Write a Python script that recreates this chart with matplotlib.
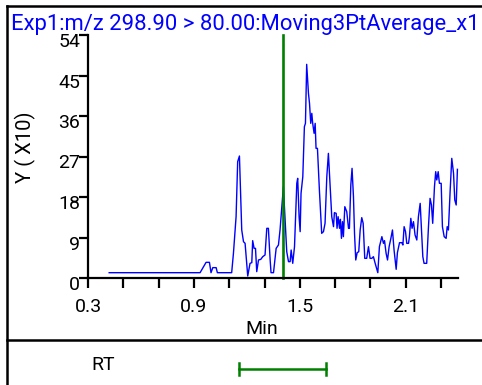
import matplotlib
matplotlib.use("Agg")
import matplotlib.pyplot as plt
from matplotlib.lines import Line2D
from matplotlib.transforms import ScaledTranslation

plt.rcParams['font.family'] = ['Roboto', 'DejaVu Sans']

# ---- data ----
time_min = [0.42, 0.935, 0.969, 0.988, 0.997, 1.007, 1.026, 1.033, 1.114, 1.124, 1.139, 1.148, 1.158,
            1.171, 1.181, 1.190, 1.205, 1.218, 1.228, 1.233, 1.241, 1.249, 1.256, 1.266, 1.279,
            1.290, 1.303, 1.313, 1.322, 1.332, 1.337, 1.351, 1.366, 1.379, 1.388, 1.398, 1.407,
            1.417, 1.426, 1.436, 1.445, 1.451, 1.460, 1.470, 1.483, 1.488, 1.496, 1.502, 1.507,
            1.517, 1.526, 1.532, 1.539, 1.549, 1.555, 1.562, 1.568, 1.573, 1.581, 1.587, 1.592,
            1.600, 1.611, 1.624, 1.634, 1.643, 1.653, 1.662, 1.672, 1.681, 1.691, 1.696, 1.706,
            1.711, 1.717, 1.725, 1.730, 1.736, 1.742, 1.747, 1.755, 1.766, 1.776, 1.781, 1.789,
            1.796, 1.804, 1.810, 1.817, 1.825, 1.834, 1.842, 1.851, 1.859, 1.868, 1.879, 1.889,
            1.898, 1.908, 1.917, 1.927, 1.942, 1.951, 1.965, 1.974, 1.980, 1.989, 1.997, 2.006,
            2.016, 2.025, 2.034, 2.046, 2.053, 2.065, 2.078, 2.084, 2.091, 2.099, 2.106, 2.116,
            2.121, 2.129, 2.136, 2.144, 2.153, 2.163, 2.172, 2.182, 2.189, 2.197, 2.204, 2.219,
            2.229, 2.238, 2.246, 2.253, 2.263, 2.270, 2.276, 2.284, 2.291, 2.301, 2.308, 2.318,
            2.329, 2.335, 2.342, 2.352, 2.361, 2.371, 2.378, 2.386, 2.393]
intensity_x10 = [1.18, 1.18, 3.48, 3.48, 1.18, 2.30, 2.30, 1.18, 1.18, 5.48, 13.63, 25.85, 27.11,
                 10.67, 8.07, 7.70, 0.44, 3.26, 3.41, 8.30, 6.59, 6.59, 1.41, 4.00, 4.15,
                 4.74, 5.11, 11.04, 11.04, 4.00, 1.18, 1.18, 6.59, 7.33, 10.67, 15.85, 20.30,
                 12.89, 5.85, 3.63, 3.63, 6.22, 3.26, 6.96, 21.04, 22.15, 13.63, 10.30, 18.81,
                 22.52, 33.63, 34.37, 47.48, 41.04, 38.81, 34.37, 36.59, 34.37, 32.15, 34.37, 28.81,
                 28.81, 19.56, 9.93, 10.30, 12.15, 22.52, 27.70, 20.30, 13.63, 11.41, 14.52, 14.37,
                 11.04, 13.63, 11.04, 13.04, 8.81, 12.52, 9.19, 15.85, 14.74, 11.04, 11.04, 20.67,
                 24.37, 18.07, 9.93, 4.00, 5.63, 5.85, 10.67, 13.41, 12.15, 4.37, 4.37, 6.96,
                 4.37, 4.37, 4.74, 3.26, 1.18, 6.96, 9.19, 7.70, 8.30, 5.48, 4.00, 6.96,
                 8.81, 10.67, 6.22, 1.93, 5.63, 7.85, 7.85, 7.33, 11.41, 10.30, 7.70, 7.70,
                 9.19, 13.26, 11.04, 12.52, 9.56, 8.44, 13.63, 16.59, 11.04, 4.74, 3.26, 3.26,
                 11.41, 17.70, 16.22, 12.15, 20.30, 23.63, 21.78, 23.63, 21.04, 21.04, 11.41, 9.19,
                 8.81, 11.41, 10.67, 19.56, 26.59, 23.26, 17.33, 16.22, 24.15]
marker_rt = 1.405
rt_range = [1.156, 1.648]
x_ticks = [0.3, 0.5, 0.7, 0.9, 1.1, 1.3, 1.5, 1.7, 1.9, 2.1, 2.3]
x_tick_labels = ['0.3', '', '', '0.9', '', '', '1.5', '', '', '2.1', '']
y_ticks = [0, 9, 18, 27, 36, 45, 54]
y_tick_labels = ['0', '9', '18', '27', '36', '45', '54']
title = "Exp1:m/z 298.90 > 80.00:Moving3PtAverage_x1"

W, H = 482, 385
fig = plt.figure(figsize=(W / 100, H / 100), dpi=100)

def fx(px):
    return px / W

def fy(py):
    return 1 - py / H

# frame lines
fig.add_artist(Line2D([fx(6.5), fx(6.5)], [fy(5.5), fy(385)], color='black', lw=1.8))
fig.add_artist(Line2D([fx(6.5), fx(482)], [fy(5.5), fy(5.5)], color='black', lw=1.8))
fig.add_artist(Line2D([fx(6.5), fx(482)], [fy(339.5), fy(339.5)], color='black', lw=1.8))

ax = fig.add_axes([fx(88), fy(278), fx(458.3) - fx(88), (278 - 35) / H])
ax.plot(time_min, intensity_x10, color='#0000FF', lw=1.0, clip_on=False)
ax.plot([marker_rt, marker_rt], [0, 54], color='#008000', lw=1.9, clip_on=False)
ax.set_xlim(0.3, 2.398)
ax.set_ylim(0, 54)
for s in ['top', 'right']:
    ax.spines[s].set_visible(False)
for s in ['left', 'bottom']:
    ax.spines[s].set_linewidth(1.6)
ax.set_xticks(x_ticks)
ax.set_xticklabels(x_tick_labels)
ax.set_yticks(y_ticks)
ax.set_yticklabels(y_tick_labels)
ax.tick_params(axis='x', direction='out', length=7.2, width=1.6, pad=7, labelsize=14)
ax.tick_params(axis='y', direction='out', length=6.5, width=1.6, pad=-1, labelsize=14)
off = ScaledTranslation(0, -5 / 100, fig.dpi_scale_trans)
for lab in ax.get_yticklabels():
    lab.set_transform(lab.get_transform() + off)

fig.text(fx(11), fy(30), title, color='#0000FF', fontsize=15.8, ha='left', va='baseline')
fig.text(fx(25), fy(147), 'Y ( X10)', rotation=90, fontsize=14.5, ha='center', va='center')
fig.text(fx(262), fy(329), 'Min', fontsize=14, ha='center', va='center')
fig.text(fx(103), fy(365), 'RT', fontsize=14, ha='center', va='center')

# RT range bar in figure, positioned using the axes x scale
rt_ax = fig.add_axes([fx(88), fy(378), fx(458.3) - fx(88), (378 - 360) / H])
rt_ax.set_xlim(0.3, 2.398)
rt_ax.set_ylim(0, 1)
rt_ax.axis('off')
rt_ax.plot(rt_range, [0.5, 0.5], color='#008000', lw=1.8)
for x in rt_range:
    rt_ax.plot([x, x], [0.14, 0.86], color='#008000', lw=1.8)

fig.savefig('out.png', dpi=100)
